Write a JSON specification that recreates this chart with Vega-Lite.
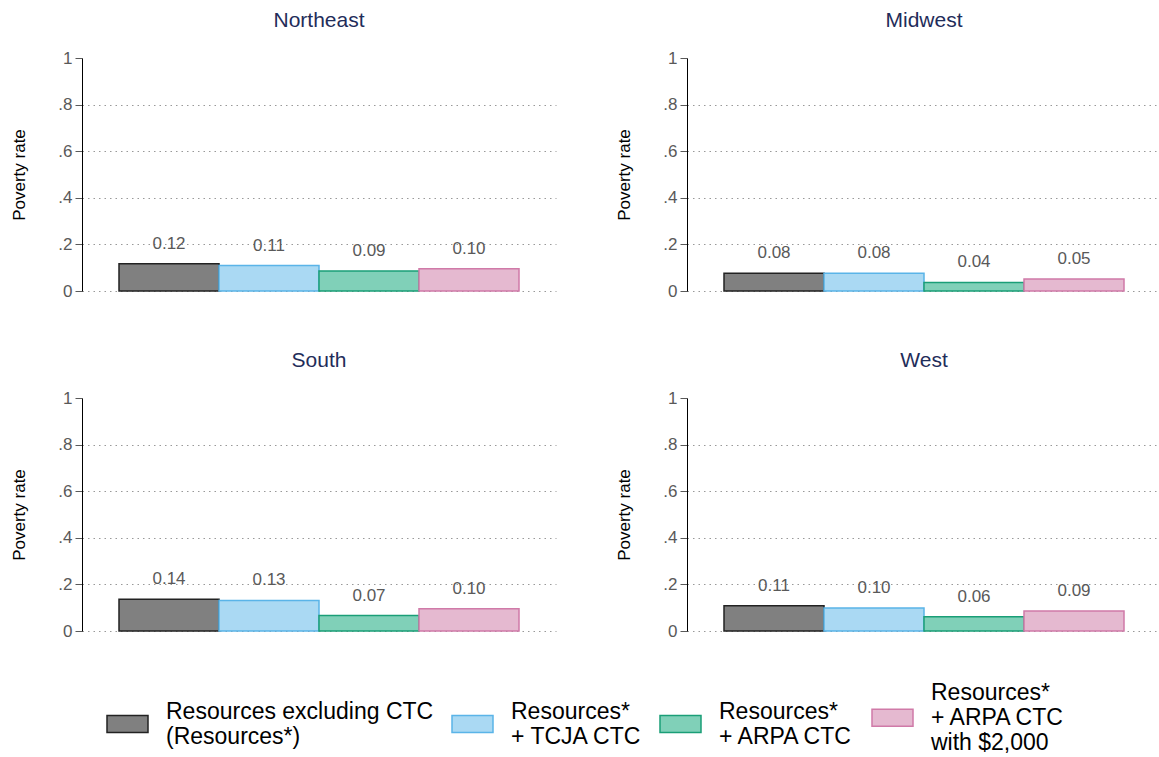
{
  "$schema": "https://vega.github.io/schema/vega-lite/v6.json",
  "background": "white",
  "padding": {"left": 10, "top": 10, "right": 0, "bottom": 0},
  "data": {"values": [
    {"region": "Northeast", "measure": "Resources excluding CTC|(Resources*)", "rate": 0.117},
    {"region": "Northeast", "measure": "Resources*|+ TCJA CTC", "rate": 0.109},
    {"region": "Northeast", "measure": "Resources*|+ ARPA CTC", "rate": 0.086},
    {"region": "Northeast", "measure": "Resources*|+ ARPA CTC|with $2,000", "rate": 0.096},
    {"region": "Midwest", "measure": "Resources excluding CTC|(Resources*)", "rate": 0.076},
    {"region": "Midwest", "measure": "Resources*|+ TCJA CTC", "rate": 0.076},
    {"region": "Midwest", "measure": "Resources*|+ ARPA CTC", "rate": 0.037},
    {"region": "Midwest", "measure": "Resources*|+ ARPA CTC|with $2,000", "rate": 0.051},
    {"region": "South", "measure": "Resources excluding CTC|(Resources*)", "rate": 0.136},
    {"region": "South", "measure": "Resources*|+ TCJA CTC", "rate": 0.131},
    {"region": "South", "measure": "Resources*|+ ARPA CTC", "rate": 0.066},
    {"region": "South", "measure": "Resources*|+ ARPA CTC|with $2,000", "rate": 0.096},
    {"region": "West", "measure": "Resources excluding CTC|(Resources*)", "rate": 0.108},
    {"region": "West", "measure": "Resources*|+ TCJA CTC", "rate": 0.099},
    {"region": "West", "measure": "Resources*|+ ARPA CTC", "rate": 0.061},
    {"region": "West", "measure": "Resources*|+ ARPA CTC|with $2,000", "rate": 0.086}
  ]},
  "facet": {
    "field": "region",
    "type": "nominal",
    "sort": ["Northeast", "Midwest", "South", "West"],
    "header": {"title": null, "labelFontSize": 21, "labelColor": "#1f2d5a", "labelFont": "Liberation Sans", "labelPadding": 18}
  },
  "columns": 2,
  "spacing": {"row": 51, "column": 59},
  "resolve": {"axis": {"y": "independent"}},
  "spec": {
    "width": 474,
    "height": 233,
    "layer": [
      {
        "mark": {"type": "bar", "strokeWidth": 1.5},
        "encoding": {
          "x": {"field": "measure", "type": "nominal", "axis": null,
                "sort": ["Resources excluding CTC|(Resources*)", "Resources*|+ TCJA CTC", "Resources*|+ ARPA CTC", "Resources*|+ ARPA CTC|with $2,000"],
                "scale": {"paddingInner": 0, "paddingOuter": 0.37}},
          "y": {"field": "rate", "type": "quantitative", "scale": {"domain": [0, 1]},
                "axis": {"title": "Poverty rate", "values": [0, 0.2, 0.4, 0.6, 0.8, 1],
                         "labelExpr": "datum.value == 0 ? '0' : datum.value == 1 ? '1' : replace(format(datum.value, '.1f'), '0.', '.')",
                         "gridOpacity": {"condition": {"test": "datum.value == 1", "value": 0}, "value": 1}}},
          "fill": {"field": "measure", "type": "nominal",
                   "sort": ["Resources excluding CTC|(Resources*)", "Resources*|+ TCJA CTC", "Resources*|+ ARPA CTC", "Resources*|+ ARPA CTC|with $2,000"],
                   "scale": {"range": ["#808080", "#aad9f3", "#80d0b8", "#e5b9d0"]},
                   "legend": {"title": null, "labelExpr": "split(datum.label, '|')",
                              "encode": {
                                "symbols": {"update": {"stroke": {"scale": "stroke", "field": "value"}, "strokeWidth": {"value": 1.5}}},
                                "labels": {"update": {"dy": {"signal": "-(length(split(datum.label, '|')) - 1) * 12.5"}}}
                              }}},
          "stroke": {"field": "measure", "type": "nominal",
                     "sort": ["Resources excluding CTC|(Resources*)", "Resources*|+ TCJA CTC", "Resources*|+ ARPA CTC", "Resources*|+ ARPA CTC|with $2,000"],
                     "scale": {"range": ["#222222", "#5ab4e8", "#1a9e77", "#d07aa8"]},
                     "legend": null}
        }
      },
      {
        "mark": {"type": "text", "dy": -20, "fontSize": 17, "color": "#595959", "font": "Liberation Sans"},
        "encoding": {
          "x": {"field": "measure", "type": "nominal",
                "sort": ["Resources excluding CTC|(Resources*)", "Resources*|+ TCJA CTC", "Resources*|+ ARPA CTC", "Resources*|+ ARPA CTC|with $2,000"]},
          "y": {"field": "rate", "type": "quantitative"},
          "text": {"field": "rate", "type": "quantitative", "format": ".2f"}
        }
      }
    ]
  },
  "config": {
    "font": "Liberation Sans",
    "view": {"stroke": null},
    "axisY": {
      "domainColor": "#000000", "domainWidth": 1,
      "tickColor": "#595959", "tickSize": 7,
      "labelFontSize": 17, "labelColor": "#595959", "labelPadding": 3,
      "titleFontSize": 17, "titleFontWeight": "normal", "titleColor": "#000000", "titlePadding": 29,
      "gridColor": "#999999", "gridDash": [1.5, 4], "gridWidth": 1
    },
    "legend": {
      "orient": "bottom", "direction": "horizontal", "columns": 4,
      "symbolType": "M-1,-0.41L1,-0.41L1,0.41L-1,0.41Z", "symbolSize": 1681, "symbolStrokeWidth": 1.5, "symbolOpacity": 1,
      "labelFontSize": 23, "labelColor": "#000000", "labelLimit": 400, "labelOffset": 17,
      "labelBaseline": "middle",
      "columnPadding": 15, "offset": 57,
      "layout": {"bottom": {"anchor": "middle"}}
    }
  }
}
